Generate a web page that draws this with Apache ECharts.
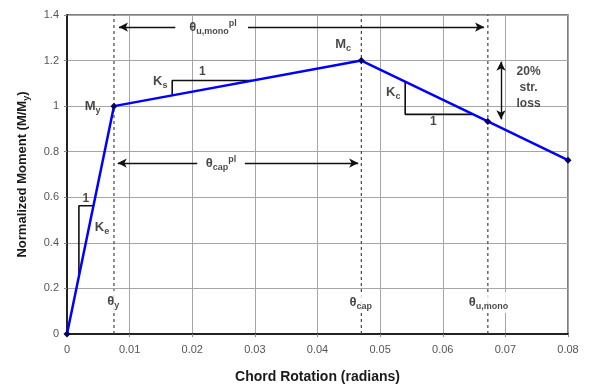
<!DOCTYPE html>
<html><head><meta charset="utf-8">
<script src="https://cdn.jsdelivr.net/npm/echarts@6/dist/echarts.min.js"></script>
<style>html,body{margin:0;padding:0;background:#fff}#c{width:590px;height:389px}</style>
</head><body><div id="c"></div>
<script>
// Backbone curve
const rotation = [0, 0.0075, 0.047, 0.0672, 0.08];
const moment   = [0, 1.0, 1.2, 0.933, 0.763];
// Characteristic rotations (dashed lines): theta_y, theta_cap, theta_u,mono
const markRotations = [0.0075, 0.047, 0.0672];
// Axis ticks
const xTicks = [0, 0.01, 0.02, 0.03, 0.04, 0.05, 0.06, 0.07, 0.08];
const yTicks = [0, 0.2, 0.4, 0.6, 0.8, 1, 1.2, 1.4];

const FONT = '"Liberation Sans", Arial, sans-serif';
const TXT = '#1a1a1a';

// annotation geometry (data coordinates)
const ann = {
  keTri: [[0.0019, 0.262], [0.0019, 0.5626], [0.00415, 0.5626]],
  ksTri: [[0.0168, 1.047], [0.0168, 1.1125], [0.0296, 1.1125]],
  kcTri: [[0.0540, 1.108], [0.0540, 0.964], [0.0647, 0.964]],
  topArrowY: 1.347, topL: [0.0083, 0.0173], topR: [0.0289, 0.0666],
  midArrowY: 0.75, midL: [0.0081, 0.0208], midR: [0.0284, 0.0465],
  lossX: 0.0693, lossY: [1.195, 0.942]
};

const rich = {
  b: {fontFamily: FONT, fontWeight: 'bold', fontSize: 13, color: TXT},
  s: {fontFamily: FONT, fontWeight: 'bold', fontSize: 9, color: TXT, verticalAlign: 'bottom', padding: [8, 0, 0, 0]},
  p: {fontFamily: FONT, fontWeight: 'bold', fontSize: 9, color: TXT, verticalAlign: 'top', padding: [0, 0, 8, 0]},
  n: {fontFamily: FONT, fontWeight: 'bold', fontSize: 12, color: TXT, lineHeight: 16}
};

const texts = [
  {c: [0.0041, 1.0], t: '{b|M}{s|y}'},
  {c: [0.0441, 1.269], t: '{b|M}{s|c}'},
  {c: [0.0149, 1.108], t: '{b|K}{s|s}'},
  {c: [0.0216, 1.153], t: '{n|1}'},
  {c: [0.0521, 1.06], t: '{b|K}{s|c}'},
  {c: [0.0585, 0.933], t: '{n|1}'},
  {c: [0.0056, 0.467], t: '{b|K}{s|e}'},
  {c: [0.0030, 0.595], t: '{n|1}'},
  {c: [0.0737, 1.081], t: '{n|20%}\n{n|str.}\n{n|loss}'},
  {c: [0.0074, 0.144], t: '{b|θ}{s|y}', bg: true},
  {c: [0.0469, 0.138], t: '{b|θ}{s|cap}', bg: true},
  {c: [0.0673, 0.138], t: '{b|θ}{s|u,mono}', bg: true},
  {c: [0.0233, 1.347], t: '{b|θ}{s|u,mono}{p|pl}'},
  {c: [0.0246, 0.75], t: '{b|θ}{s|cap}{p|pl}'}
];

function seg(pts, extra) {
  return Object.assign({
    type: 'line', data: pts, symbol: 'none', silent: true, z: 3,
    lineStyle: {color: '#111', width: 1.6}, animation: false
  }, extra || {});
}
function arrowSeries(lines, symbols) {
  return {
    type: 'line', data: [], silent: true, animation: false,
    markLine: {
      silent: true, animation: false, symbol: symbols, symbolSize: [7, 9],
      label: {show: false},
      lineStyle: {color: '#111', width: 1.4, type: 'solid'},
      data: lines.map(l => [{coord: l[0]}, {coord: l[1]}])
    }
  };
}

const series = [];
// dashed characteristic lines
markRotations.forEach(x => series.push(seg([[x, 0], [x, 1.4]], {
  z: 2, lineStyle: {color: '#444', width: 1.2, type: [3, 3]}
})));
// triangles
series.push(seg(ann.keTri));
series.push(seg(ann.ksTri));
series.push(seg(ann.kcTri));
// arrows
series.push(arrowSeries([
  [[ann.topL[0], ann.topArrowY], [ann.topL[1], ann.topArrowY]],
  [[ann.midL[0], ann.midArrowY], [ann.midL[1], ann.midArrowY]]
], ['arrow', 'none']));
series.push(arrowSeries([
  [[ann.topR[0], ann.topArrowY], [ann.topR[1], ann.topArrowY]],
  [[ann.midR[0], ann.midArrowY], [ann.midR[1], ann.midArrowY]]
], ['none', 'arrow']));
series.push(arrowSeries([
  [[ann.lossX, ann.lossY[0]], [ann.lossX, ann.lossY[1]]]
], ['arrow', 'arrow']));
// backbone
series.push({
  type: 'line', data: rotation.map((x, i) => [x, moment[i]]),
  symbol: 'diamond', symbolSize: 7, z: 5, animation: false,
  lineStyle: {color: '#0000ff', width: 2.5},
  itemStyle: {color: '#000066'}
});
// texts
series.push({
  type: 'scatter', symbolSize: 0, z: 6, silent: true, animation: false,
  data: texts.map(o => ({
    value: o.c,
    label: {
      show: true, position: 'inside', formatter: o.t, rich: rich,
      backgroundColor: o.bg ? '#fff' : 'transparent', padding: o.bg ? [2, 1] : 0
    }
  }))
});

const chart = echarts.init(document.getElementById('c'), null, {renderer: 'canvas'});
chart.setOption({
  animation: false,
  backgroundColor: '#fff',
  grid: {left: 67, right: 22, top: 15, bottom: 53, show: true, borderColor: '#555', borderWidth: 1.5},
  xAxis: {
    type: 'value', min: xTicks[0], max: xTicks[xTicks.length - 1], interval: 0.01,
    name: 'Chord Rotation (radians)', nameLocation: 'middle', nameGap: 36,
    nameTextStyle: {fontFamily: FONT, fontWeight: 'bold', fontSize: 14, color: TXT},
    axisLine: {lineStyle: {color: '#222', width: 2}},
    axisTick: {show: true, length: 3, lineStyle: {color: '#888'}},
    axisLabel: {fontFamily: FONT, fontSize: 11, color: '#555', margin: 10,
      formatter: v => xTicks.find(t => Math.abs(t - v) < 1e-9) !== undefined ? String(+v.toFixed(2)) : ''},
    splitLine: {show: true, lineStyle: {color: '#a6a6a6', width: 1}}
  },
  yAxis: {
    type: 'value', min: yTicks[0], max: yTicks[yTicks.length - 1], interval: 0.2,
    name: 'Normalized Moment (M/M{s|y})', nameLocation: 'middle', nameGap: 36,
    nameTextStyle: {fontFamily: FONT, fontWeight: 'bold', fontSize: 13, color: TXT,
      rich: {s: {fontFamily: FONT, fontWeight: 'bold', fontSize: 9, color: TXT, verticalAlign: 'bottom', padding: [8, 0, 0, 0]}}},
    axisLine: {show: true, lineStyle: {color: '#222', width: 2}},
    axisTick: {show: true, length: 3, lineStyle: {color: '#888'}},
    axisLabel: {fontFamily: FONT, fontSize: 11, color: '#555', margin: 8,
      formatter: v => String(+v.toFixed(1))},
    splitLine: {show: true, lineStyle: {color: '#a6a6a6', width: 1}}
  },
  series: series
});
</script></body></html>
